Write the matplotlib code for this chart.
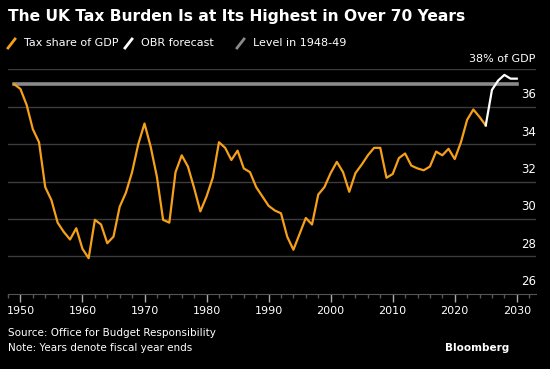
import matplotlib.pyplot as plt
import numpy as np
from matplotlib.lines import Line2D

years = np.arange(1949, 2026)
tax_share = [
    37.2, 36.95, 36.1, 34.8, 34.1, 31.7, 31.0, 29.8, 29.3, 28.9,
    29.5, 28.4, 27.9, 29.95, 29.7, 28.7, 29.05, 30.65, 31.4, 32.5,
    34.0, 35.1, 33.85, 32.25, 29.95, 29.8, 32.5, 33.4, 32.8, 31.65,
    30.4, 31.2, 32.2, 34.1, 33.8, 33.15, 33.65, 32.7, 32.5, 31.7,
    31.2, 30.7, 30.45, 30.3, 29.05, 28.35, 29.2, 30.05, 29.7, 31.3,
    31.7, 32.45, 33.05, 32.5, 31.45, 32.45, 32.9, 33.4, 33.8, 33.8,
    32.2, 32.4, 33.25, 33.5, 32.85, 32.7, 32.6, 32.8, 33.6, 33.4,
    33.75, 33.2, 34.1, 35.3, 35.85, 35.45, 35.0,
]
fc_years = np.arange(2025, 2031)
forecast = [35.0, 36.9, 37.4, 37.7, 37.5, 37.5]
level_1949 = 37.2

orange = '#f6a01a'
grid_c = '#3c3c3c'

fig = plt.figure(figsize=(5.5, 3.69), dpi=100, facecolor='black')
ax = fig.add_axes([8 / 550, 1 - 293.7 / 369, 527.7 / 550, 224.4 / 369])
ax.set_facecolor('black')

ax.set_xlim(1948, 2033.05)
ax.set_ylim(26, 38)

for v in range(28, 39, 2):
    ax.axhline(v, color=grid_c, lw=1, zorder=0)

ax.plot([1949, 2030], [level_1949, level_1949], color='#8a8a8a', lw=2.6, zorder=1)
ax.plot(years, tax_share, color=orange, lw=1.6, zorder=2)
ax.plot(fc_years, forecast, color='white', lw=1.6, zorder=3)

for s in ['top', 'right', 'left']:
    ax.spines[s].set_visible(False)
ax.spines['bottom'].set_color('#555555')
ax.set_yticks([])
ax.set_xticks(np.arange(1950, 2031, 10))
ax.set_xticks(np.arange(1948, 2034, 2), minor=True)
ax.tick_params(axis='x', which='major', colors='#aaaaaa', length=6, width=1,
               labelcolor='white', labelsize=8, pad=3)
ax.tick_params(axis='x', which='minor', colors='#555555', length=3, width=1)

for v in range(26, 38, 2):
    ax.annotate(str(v), xy=(1, v), xycoords=('axes fraction', 'data'),
                xytext=(0, 4), textcoords='offset points',
                ha='right', va='bottom', color='white', fontsize=8.5)
ax.annotate('38% of GDP', xy=(1, 38), xycoords=('axes fraction', 'data'),
            xytext=(0, 4), textcoords='offset points',
            ha='right', va='bottom', color='white', fontsize=8)

fig.text(8 / 550, 1 - 16 / 369, 'The UK Tax Burden Is at Its Highest in Over 70 Years',
         color='white', fontsize=11.2, fontweight='bold', va='center', ha='left')

legend_items = [('Tax share of GDP', orange, 8), ('OBR forecast', 'white', 125),
                ('Level in 1948-49', '#8a8a8a', 237)]
for label, c, x0 in legend_items:
    fig.add_artist(Line2D([x0 / 550, (x0 + 7) / 550],
                          [1 - 48 / 369, 1 - 39 / 369],
                          color=c, lw=2, transform=fig.transFigure))
    fig.text((x0 + 16) / 550, 1 - 43.5 / 369, label, color='white',
             fontsize=8, va='center', ha='left')

fig.text(8 / 550, 1 - 333 / 369, 'Source: Office for Budget Responsibility',
         color='white', fontsize=7.5, va='center', ha='left')
fig.text(8 / 550, 1 - 348 / 369, 'Note: Years denote fiscal year ends',
         color='white', fontsize=7.5, va='center', ha='left')
fig.text(509 / 550, 1 - 348 / 369, 'Bloomberg', color='white', fontsize=7.5,
         fontweight='bold', va='center', ha='right')

fig.savefig('out.png', dpi=100, facecolor='black')
